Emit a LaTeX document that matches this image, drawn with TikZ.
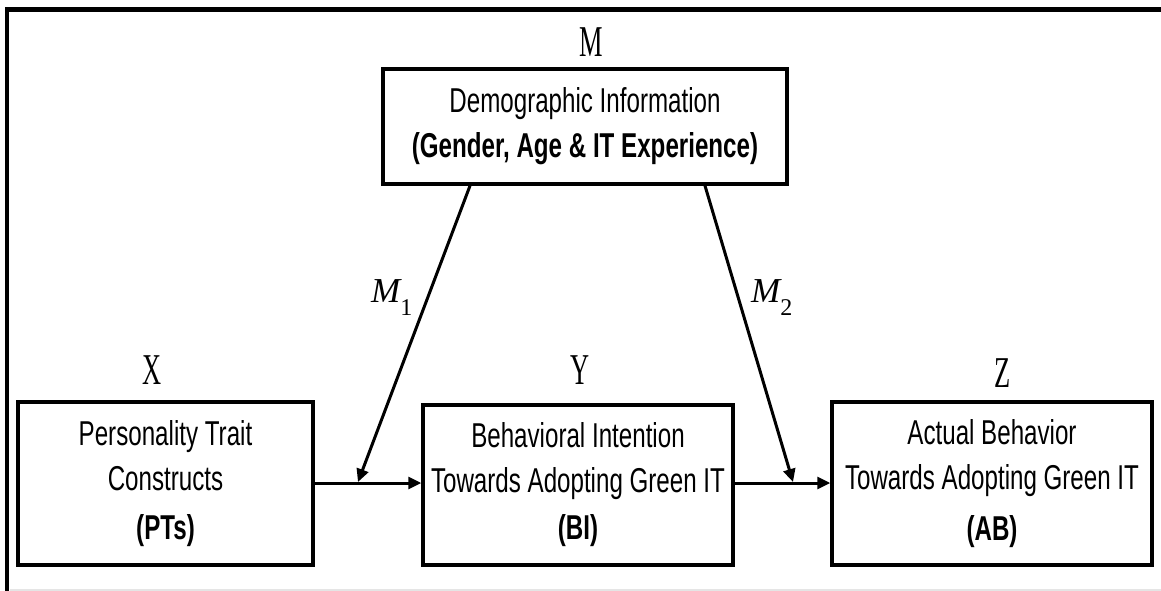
\documentclass[tikz,border=0pt]{standalone}
\usepackage{fontspec}
\setmainfont{Liberation Sans}[FakeStretch=0.70]
\newfontfamily\letterfont{Liberation Serif}[FakeStretch=0.6]
\newfontfamily\mfont{Liberation Serif}
\usetikzlibrary{arrows.meta}
\begin{document}
\begin{tikzpicture}[x=1pt,y=-1pt,
  box/.style={draw, line width=3.5pt, inner sep=0pt, align=center,
    font=\fontsize{34.5}{45}\selectfont},
  arr/.style={line width=3pt, -{Triangle[length=13pt,width=12pt]}},
  letter/.style={font=\letterfont\fontsize{44}{44}\selectfont, inner sep=0pt},
  mlab/.style={anchor=base west, inner sep=0pt, font=\mfont\fontsize{35}{35}\selectfont}]
\useasboundingbox (0,0) rectangle (1161,591);
% frame
\draw[black!10, line width=2pt] (10,590) -- (1161,590);
\draw[line width=4.4pt] (1161,9.5) -- (7,9.5) -- (7,591);
% boxes
\node[box, minimum width=404pt, minimum height=115pt] (M) at (585,126.5)
  {Demographic Information\\[0pt]\textbf{(Gender, Age \& IT Experience)}};
\node[box, minimum width=295pt, minimum height=163pt] (X) at (165.5,483.5)
  {Personality Trait\\Constructs\\[4pt]\textbf{(PTs)}};
\node[box, minimum width=310pt, minimum height=160pt] (Y) at (578,485)
  {Behavioral Intention\\Towards Adopting Green IT\\[2pt]\textbf{(BI)}};
\node[box, minimum width=320pt, minimum height=163pt] (Z) at (992,483.5)
  {Actual Behavior\\Towards Adopting Green IT\\[6pt]\textbf{(AB)}};
% letters
\node[letter] (lM) at (591,42) {M};
\node[letter] (lX) at (152,370) {X};
\node[letter] (lY) at (580,370) {Y};
\node[letter] (lZ) at (1003,373) {Z};
% connectors
\draw[arr] (X.east |- 0,483) -- (Y.west |- 0,483);
\draw[arr] (Y.east |- 0,483) -- (Z.west |- 0,483);
\coordinate (t1) at (358,482);
\coordinate (t2) at (793,482);
\draw[arr] (M.south -| 470,0) -- (t1);
\draw[arr] (M.south -| 705,0) -- (t2);
% moderator labels
\node[mlab] (m1) at (371,302) {\itshape M\raisebox{-13pt}{\upshape\fontsize{24}{24}\selectfont 1}};
\node[mlab] (m2) at (751,302) {\itshape M\raisebox{-13pt}{\upshape\fontsize{24}{24}\selectfont 2}};
\end{tikzpicture}
\end{document}
